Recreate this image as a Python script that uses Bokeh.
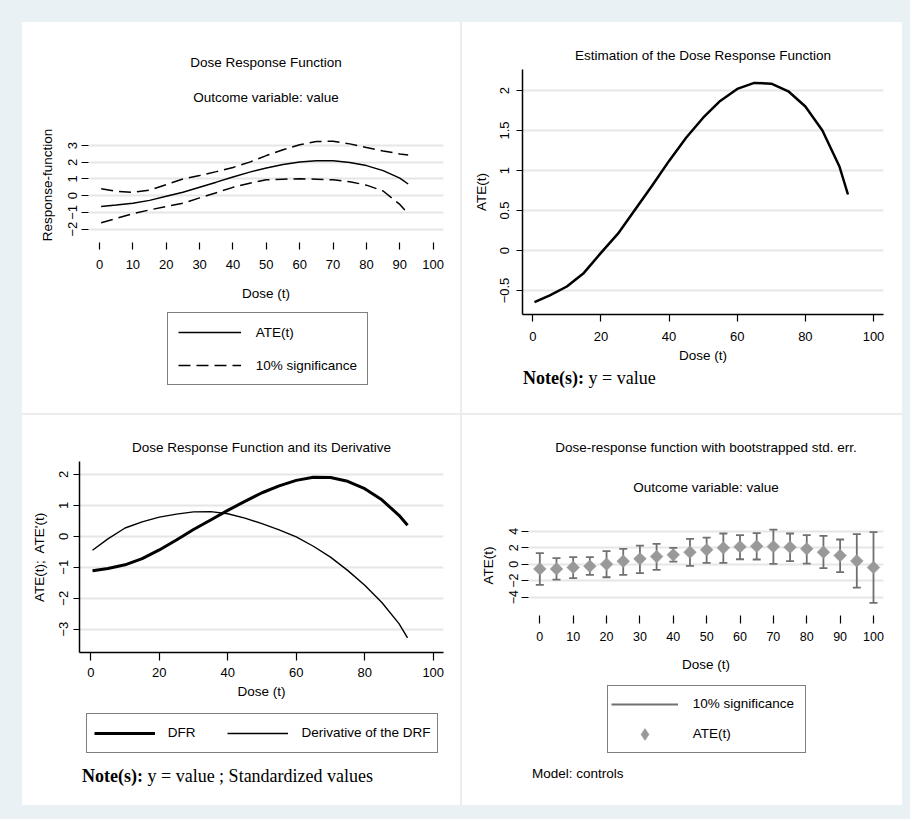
import numpy as np
from bokeh.plotting import figure
from bokeh.models import Legend, LegendItem, Range1d, FixedTicker, Spacer, Title, Div
from bokeh.layouts import row, column
from bokeh.embed import file_html
from bokeh.resources import INLINE

SANS = "Liberation Sans"

# ---------------- data ----------------
# estimated dose response function (panels 1 and 2)
dose = [0.5, 5, 10, 15, 20, 25, 30, 35, 40, 45, 50, 55, 60, 65, 70, 75, 80, 85, 90, 92.5]
ate = [-0.646, -0.56, -0.45, -0.28, -0.03, 0.21, 0.51, 0.81, 1.12, 1.41, 1.66, 1.87,
       2.02, 2.095, 2.085, 1.99, 1.80, 1.50, 1.05, 0.70]
ate_upper = [0.41, 0.27, 0.20, 0.33, 0.66, 1.00, 1.21, 1.44, 1.69, 2.01, 2.40, 2.75,
             3.05, 3.24, 3.26, 3.10, 2.88, 2.68, 2.50, 2.44]
ate_lower = [-1.62, -1.36, -1.08, -0.85, -0.65, -0.45, -0.13, 0.18, 0.50, 0.75, 0.95, 0.99,
             1.01, 0.99, 0.95, 0.84, 0.63, 0.28, -0.52, -1.08]

# standardized DRF and derivative (panel 3)
dfr_std = [-1.11, -1.04, -0.92, -0.72, -0.44, -0.12, 0.22, 0.53, 0.84, 1.13, 1.41, 1.63,
           1.81, 1.91, 1.90, 1.78, 1.54, 1.18, 0.68, 0.36]
deriv_std = [-0.45, -0.08, 0.27, 0.47, 0.62, 0.72, 0.79, 0.80, 0.73, 0.59, 0.41, 0.21,
             -0.02, -0.32, -0.67, -1.10, -1.58, -2.14, -2.82, -3.28]

# bootstrapped estimates (panel 4)
boot_dose = [0, 5, 10, 15, 20, 25, 30, 35, 40, 45, 50, 55, 60, 65, 70, 75, 80, 85, 90, 95, 100]
boot_ate = [-0.57, -0.57, -0.40, -0.24, 0.00, 0.36, 0.65, 0.93, 1.13, 1.45, 1.74, 1.98,
            2.10, 2.18, 2.14, 2.06, 1.86, 1.45, 1.05, 0.40, -0.40]
boot_hi = [1.33, 0.73, 0.85, 0.85, 1.58, 1.86, 2.26, 2.46, 1.98, 3.07, 3.23, 3.72,
           3.52, 3.76, 4.20, 3.72, 3.52, 3.43, 2.99, 3.64, 3.88]
boot_lo = [-2.50, -1.86, -1.70, -1.29, -1.58, -1.29, -1.09, -0.69, 0.32, -0.20, 0.16, 0.16,
           0.60, 0.57, 0.04, 0.36, 0.08, -0.48, -0.97, -2.83, -4.69]

# ticks
p1_xticks = [0, 10, 20, 30, 40, 50, 60, 70, 80, 90, 100]
p1_yticks = [-2, -1, 0, 1, 2, 3]
p1_ylabels = ["\u22122", "\u22121", "0", "1", "2", "3"]
p2_xticks = [0, 20, 40, 60, 80, 100]
p2_yticks = [-0.5, 0, 0.5, 1, 1.5, 2]
p2_ylabels = ["\u22120.5", "0", "0.5", "1", "1.5", "2"]
p3_xticks = [0, 20, 40, 60, 80, 100]
p3_yticks = [-3, -2, -1, 0, 1, 2]
p3_ylabels = ["\u22123", "\u22122", "\u22121", "0", "1", "2"]
p4_xticks = [0, 10, 20, 30, 40, 50, 60, 70, 80, 90, 100]
p4_yticks = [-4, -2, 0, 2, 4]
p4_ylabels = ["\u22124", "\u22122", "0", "2", "4"]

GRID = "#e6e6e6"
BAR = "#707070"
DIAMOND = "#999999"


def make_fig(w, h, xr, yr, left, right, top, bottom):
    p = figure(width=w, height=h, x_range=Range1d(*xr), y_range=Range1d(*yr),
               output_backend="svg", toolbar_location=None, title=None,
               min_border_left=left, min_border_right=right,
               min_border_top=top, min_border_bottom=bottom)
    p.frame_align = False
    p.outline_line_color = None
    p.background_fill_color = "white"
    p.border_fill_color = "white"
    p.xgrid.grid_line_color = None
    p.ygrid.grid_line_color = GRID
    p.ygrid.grid_line_width = 1.8
    return p


def legend_fig(w, h):
    # a bare canvas that only carries a legend (its glyphs fall outside the ranges)
    p = figure(width=w, height=h, x_range=Range1d(1000, 1001), y_range=Range1d(1000, 1001),
               output_backend="svg", toolbar_location=None, title=None,
               x_axis_type=None, y_axis_type=None,
               min_border_left=0, min_border_right=0, min_border_top=0, min_border_bottom=0)
    p.frame_align = False
    p.outline_line_color = None
    p.background_fill_color = "white"
    p.border_fill_color = "white"
    p.grid.visible = False
    return p


def style_axes(p, xticks, yticks, ylabels, xlabel, ylabel, axis_line,
               xt_out, yt_out, x_std, x_ast, y_std, y_ast, tick_size="13px"):
    xa = p.xaxis[0]
    ya = p.yaxis[0]
    xa.ticker = FixedTicker(ticks=xticks)
    ya.ticker = FixedTicker(ticks=yticks)
    p.ygrid.ticker = FixedTicker(ticks=yticks)
    ya.major_label_overrides = {float(v): s for v, s in zip(yticks, ylabels)}
    ya.major_label_orientation = "vertical"
    xa.axis_label = xlabel
    ya.axis_label = ylabel
    for ax, tout, std, ast in ((xa, xt_out, x_std, x_ast), (ya, yt_out, y_std, y_ast)):
        ax.minor_tick_line_color = None
        ax.major_tick_in = 0
        ax.major_tick_out = tout
        ax.major_tick_line_color = "black"
        ax.major_tick_line_width = 1.2
        ax.major_label_standoff = std
        ax.axis_label_standoff = ast
        ax.major_label_text_font = SANS
        ax.major_label_text_font_size = tick_size
        ax.major_label_text_color = "black"
        ax.axis_label_text_font = SANS
        ax.axis_label_text_font_size = "13.5px"
        ax.axis_label_text_font_style = "normal"
        ax.axis_label_text_color = "black"
        if axis_line:
            ax.axis_line_color = "black"
            ax.axis_line_width = 1.5
        else:
            ax.axis_line_color = None


def add_title(p, text, standoff, valign="bottom"):
    p.add_layout(Title(text=text, align="center", vertical_align=valign,
                       standoff=standoff, text_font=SANS, text_font_size="13.5px",
                       text_font_style="normal", text_color="black"), "above")


def make_legend(items, loc, orientation, gw, gh, standoff, pad, spacing, label_width=20):
    leg = Legend(items=items, location=loc, orientation=orientation)
    leg.glyph_width = gw
    leg.glyph_height = gh
    leg.label_height = gh
    leg.label_width = label_width
    leg.label_standoff = standoff
    leg.padding = pad
    leg.spacing = spacing
    leg.margin = 0
    leg.border_line_color = "black"
    leg.border_line_width = 1.2
    leg.background_fill_color = "white"
    leg.background_fill_alpha = 1
    leg.label_text_font = SANS
    leg.label_text_font_size = "13.5px"
    leg.label_text_color = "black"
    return leg


def text_div(width, height, pad_top, pad_left, html, font, size, line_height):
    inner = ('<div style="padding:%dpx 0 0 %dpx; font-family:\'%s\'; font-size:%s; '
             'line-height:%dpx; color:black; white-space:nowrap;">%s</div>'
             ) % (pad_top, pad_left, font, size, line_height, html)
    return Div(text=inner, width=width, height=height,
               styles={"background-color": "white", "margin": "0"})


# ---------------- panel 1 ----------------
p1 = make_fig(438, 285, (-3.30, 103.09), (-2.80, 4.08), 66, 17, 105, 65)
style_axes(p1, p1_xticks, p1_yticks, p1_ylabels, "Dose (t)", "Response-function", False,
           7, 7, 10, 14, 4, 11)
p1.line(dose, ate, line_color="black", line_width=1.5)
p1.line(dose, ate_upper, line_color="black", line_width=1.5, line_dash="12 6")
p1.line(dose, ate_lower, line_color="black", line_width=1.5, line_dash="12 6")
add_title(p1, "Outcome variable: value", 41, valign="top")
add_title(p1, "Dose Response Function", 0)

l1 = legend_fig(438, 106)
l1a = l1.line(dose, ate, line_color="black", line_width=1.5)
l1b = l1.line(dose, ate_upper, line_color="black", line_width=1.5, line_dash="12 6")
l1.add_layout(make_legend([LegendItem(label="ATE(t)", renderers=[l1a]),
                           LegendItem(label="10% significance", renderers=[l1b])],
                          (144.7, 28), "vertical", 63, 18, 15, 10, 15))

# ---------------- panel 2 ----------------
p2 = make_fig(440, 345, (-3.02, 102.93), (-0.80, 2.2625), 60, 19, 47, 53)
style_axes(p2, p2_xticks, p2_yticks, p2_ylabels, "Dose (t)", "ATE(t)", True,
           7, 6, 10, 4, 8, 8)
p2.line(dose, ate, line_color="black", line_width=2.5)
add_title(p2, "Estimation of the Dose Response Function", 14)
d2 = text_div(440, 46, 2, 61, "<b>Note(s):</b> y = value", "Liberation Serif", "18px", 18)

# ---------------- panel 3 ----------------
p3 = make_fig(438, 290, (-3.30, 103.0), (-3.755, 2.42), 57, 17, 46, 53)
style_axes(p3, p3_xticks, p3_yticks, p3_ylabels, "Dose (t)", "ATE(t);\u00a0 ATE'(t)", True,
           8, 6, 7, 4, 5, 10)
p3.line(dose, dfr_std, line_color="black", line_width=3)
p3.line(dose, deriv_std, line_color="black", line_width=1.4)
add_title(p3, "Dose Response Function and its Derivative", 13)

l3 = legend_fig(438, 63)
l3a = l3.line(dose, dfr_std, line_color="black", line_width=3)
l3b = l3.line(dose, deriv_std, line_color="black", line_width=1.4)
l3.add_layout(make_legend([LegendItem(label="DFR", renderers=[l3a]),
                           LegendItem(label="Derivative of the DRF", renderers=[l3b])],
                          (63.7, 15.3), "horizontal", 61, 24, 13, 7, 32))
d3 = text_div(438, 37, 1, 60, "<b>Note(s):</b> y = value ; Standardized values",
              "Liberation Serif", "18px", 14)

# ---------------- panel 4 ----------------
p4 = make_fig(440, 262, (-3.39, 103.0), (-6.218, 5.90), 66, 19, 100, 62)
style_axes(p4, p4_xticks, p4_yticks, p4_ylabels, "Dose (t)", "ATE(t)", False,
           8, 7, 8, 13, 3, 11, tick_size="12.5px")
p4.segment(x0=boot_dose, y0=boot_lo, x1=boot_dose, y1=boot_hi, line_color=BAR, line_width=1.8)
p4.scatter(boot_dose, boot_hi, marker="dash", size=8, line_color=BAR, line_width=1.8)
p4.scatter(boot_dose, boot_lo, marker="dash", size=8, line_color=BAR, line_width=1.8)
p4.scatter(boot_dose, boot_ate, marker="square", angle=np.pi / 4, size=9,
           fill_color=DIAMOND, line_color=DIAMOND, line_width=0.5)
add_title(p4, "Outcome variable: value", 41)
add_title(p4, "Dose-response function with bootstrapped std. err.", 5)

l4 = legend_fig(440, 89)
l4a = l4.segment(x0=boot_dose, y0=boot_lo, x1=boot_dose, y1=boot_hi, line_color=BAR, line_width=1.8)
l4b = l4.scatter(boot_dose, boot_ate, marker="diamond", size=13,
                 fill_color=DIAMOND, line_color=DIAMOND, line_width=0.5)
l4.add_layout(make_legend([LegendItem(label="10% significance", renderers=[l4a]),
                           LegendItem(label="ATE(t)", renderers=[l4b])],
                          (144.7, 13.3), "vertical", 67, 30, 15, 3, 0, label_width=109))
d4 = text_div(440, 39, 0, 70, "Model: controls", "Liberation Sans", "13.5px", 14)

# ---------------- layout ----------------
WHITE = {"background-color": "white"}
col1 = column(p1, l1, spacing=0, styles=WHITE)
col2 = column(p2, d2, spacing=0, styles=WHITE)
col3 = column(p3, l3, d3, spacing=0, styles=WHITE)
col4 = column(p4, l4, d4, spacing=0, styles=WHITE)
top_row = row(col1, col2, spacing=2)
bottom_row = row(col3, col4, spacing=2)
grid = column(top_row, bottom_row, spacing=2, styles={"background-color": "#ececec"})
page = row(Spacer(width=22, height=10),
           column(Spacer(width=10, height=22), grid, Spacer(width=10, height=14)),
           Spacer(width=8, height=10),
           styles={"background-color": "#e9f1f4"})

open("out.html", "w").write(file_html(page, INLINE))
